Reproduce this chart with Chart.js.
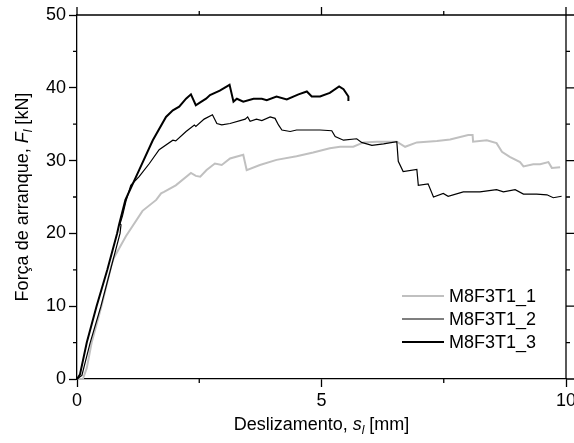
<!DOCTYPE html>
<html>
<head>
<meta charset="utf-8">
<script src="https://cdn.jsdelivr.net/npm/chart.js@4.4.0/dist/chart.umd.min.js"></script>
<style>
  html, body { margin: 0; padding: 0; background: #fff; }
</style>
</head>
<body>
<canvas id="pulloutChart" width="574" height="443"></canvas>
<script>
/* ================================
   Data
================================ */
const seriesNames = ["M8F3T1_1", "M8F3T1_2", "M8F3T1_3"];

// slip s_l [mm] / pull-out force F_l [kN]
const slip1 = [0, 0.12, 0.2, 0.3, 0.5, 0.7, 0.75, 1.0, 1.34, 1.62,
  1.72, 1.78, 2.02, 2.33, 2.43, 2.52, 2.65, 2.82, 2.96, 3.13,
  3.40, 3.47, 3.74, 4.08, 4.49, 4.83, 5.17, 5.38, 5.65, 5.86,
  6.13, 6.54, 6.71, 6.95, 7.36, 7.63, 8.00, 8.09, 8.10, 8.38,
  8.58, 8.69, 8.85, 9.06, 9.13, 9.33, 9.47, 9.64, 9.71, 9.88];
const force1 = [0, 0, 1.5, 5, 10, 15.5, 16.6, 19.6, 23.1, 24.6,
  25.5, 25.7, 26.6, 28.3, 27.9, 27.8, 28.7, 29.6, 29.4, 30.3,
  30.8, 28.7, 29.4, 30.1, 30.6, 31.1, 31.7, 31.9, 31.9, 32.5,
  32.6, 32.6, 31.9, 32.5, 32.7, 32.9, 33.5, 33.5, 32.6, 32.8,
  32.4, 31.2, 30.5, 29.8, 29.2, 29.5, 29.5, 29.8, 29.0, 29.1];

const slip2 = [0, 0.1, 0.27, 0.49, 0.88, 0.90, 0.88, 0.93, 1.0, 1.10,
  1.27, 1.48, 1.68, 1.96, 2.02, 2.23, 2.40, 2.43, 2.60, 2.77,
  2.86, 2.96, 3.13, 3.44, 3.49, 3.54, 3.67, 3.78, 3.95, 4.05,
  4.12, 4.19, 4.36, 4.49, 4.70, 4.97, 5.21, 5.28, 5.45, 5.72,
  5.82, 6.03, 6.27, 6.54, 6.57, 6.67, 6.95, 6.98, 7.18, 7.29,
  7.49, 7.59, 7.90, 8.24, 8.58, 8.72, 8.96, 9.13, 9.40, 9.61,
  9.74, 9.91];
const force2 = [0, 0.5, 5, 10, 20, 21.2, 21.3, 22.4, 24.4, 26.6,
  27.8, 29.6, 31.5, 32.8, 32.7, 34.0, 34.9, 34.7, 35.7, 36.3,
  35.1, 34.9, 35.1, 35.7, 36.0, 35.4, 35.7, 35.5, 36.0, 35.8,
  34.9, 34.2, 34.0, 34.2, 34.2, 34.2, 34.1, 33.3, 32.8, 33.0,
  32.5, 32.1, 32.3, 32.6, 29.9, 28.5, 28.8, 26.6, 26.8, 25.0,
  25.5, 25.1, 25.7, 25.7, 26.0, 25.7, 26.0, 25.4, 25.4, 25.3,
  24.9, 25.1];

const slip3 = [0, 0.06, 0.2, 0.40, 0.62, 0.82, 0.86, 0.99, 1.27, 1.55,
  1.82, 1.96, 2.09, 2.23, 2.33, 2.43, 2.52, 2.64, 2.72, 2.92,
  3.12, 3.20, 3.27, 3.40, 3.61, 3.78, 3.88, 4.08, 4.29, 4.53,
  4.70, 4.80, 4.97, 5.17, 5.36, 5.45, 5.55, 5.55];
const force3 = [0, 0.6, 5, 10, 15, 20, 21.2, 24.6, 28.7, 32.8,
  36.0, 36.9, 37.4, 38.5, 39.1, 37.6, 38.0, 38.5, 39.0, 39.6,
  40.4, 38.1, 38.5, 38.1, 38.5, 38.5, 38.3, 38.8, 38.4, 39.1,
  39.5, 38.8, 38.8, 39.3, 40.2, 39.8, 38.8, 38.2];

const xMajor = [0, 5, 10];
const xMinor = [2.5, 7.5];
const yMajor = [0, 10, 20, 30, 40, 50];
const yMinor = [5, 15, 25, 35, 45];

const FONT = "'Liberation Sans', Arial, Helvetica, sans-serif";

function toPoints(xs, ys) {
  return xs.map((x, i) => ({ x, y: ys[i] }));
}

/* ================================
   Helpers
================================ */
// text made of runs with their own font and vertical shift
function drawRuns(ctx, runs, cx, baseline) {
  let total = 0;
  runs.forEach(r => { ctx.font = r.font; total += ctx.measureText(r.text).width; });
  let x = cx - total / 2;
  runs.forEach(r => {
    ctx.font = r.font;
    ctx.fillText(r.text, x, baseline + (r.dy || 0));
    x += ctx.measureText(r.text).width;
  });
}

const normal = `18px ${FONT}`;
const italic = `italic 18px ${FONT}`;
const sub = `italic 12px ${FONT}`;

/* ================================
   Plugin: box, minor ticks, titles, legend
================================ */
const decorPlugin = {
  id: "decor",
  afterDraw(chart) {
    const { ctx, chartArea: a, scales: { x, y } } = chart;
    ctx.save();
    ctx.strokeStyle = "#000";
    ctx.lineWidth = 1.3;
    ctx.beginPath();
    ctx.moveTo(a.left, a.top);
    ctx.lineTo(a.right, a.top);
    ctx.lineTo(a.right, a.bottom);
    xMajor.forEach(v => {
      const px = x.getPixelForValue(v);
      ctx.moveTo(px, a.top); ctx.lineTo(px, a.top - 8);
    });
    xMinor.forEach(v => {
      const px = x.getPixelForValue(v);
      ctx.moveTo(px, a.top); ctx.lineTo(px, a.top - 4);
      ctx.moveTo(px, a.bottom); ctx.lineTo(px, a.bottom + 4);
    });
    yMajor.forEach(v => {
      const py = y.getPixelForValue(v);
      ctx.moveTo(a.right, py); ctx.lineTo(a.right + 8, py);
    });
    yMinor.forEach(v => {
      const py = y.getPixelForValue(v);
      ctx.moveTo(a.left, py); ctx.lineTo(a.left - 4, py);
      ctx.moveTo(a.right, py); ctx.lineTo(a.right + 4, py);
    });
    ctx.stroke();

    // axis titles
    ctx.fillStyle = "#000";
    ctx.textBaseline = "alphabetic";
    ctx.textAlign = "left";
    drawRuns(ctx, [
      { text: "Deslizamento, ", font: normal },
      { text: "s", font: italic },
      { text: "l", font: sub, dy: 4 },
      { text: " [mm]", font: normal }
    ], (a.left + a.right) / 2, 430);

    ctx.save();
    ctx.translate(28, (a.top + a.bottom) / 2);
    ctx.rotate(-Math.PI / 2);
    drawRuns(ctx, [
      { text: "Força de arranque, ", font: normal },
      { text: "F", font: italic },
      { text: "l", font: sub, dy: 4 },
      { text: " [kN]", font: normal }
    ], 0, 0);
    ctx.restore();

    // legend
    const lx = a.right - 164;
    const rows = [a.bottom - 83, a.bottom - 60, a.bottom - 37];
    chart.data.datasets.forEach((ds, i) => {
      ctx.strokeStyle = ds.borderColor;
      ctx.lineWidth = ds.borderWidth;
      ctx.beginPath();
      ctx.moveTo(lx, rows[i]);
      ctx.lineTo(lx + 42, rows[i]);
      ctx.stroke();
      ctx.fillStyle = "#000";
      ctx.font = normal;
      ctx.textBaseline = "middle";
      ctx.fillText(ds.label, lx + 47, rows[i] + 1);
    });
    ctx.restore();
  }
};

/* ================================
   Chart
================================ */
new Chart(document.getElementById("pulloutChart"), {
  type: "line",
  data: {
    datasets: [
      { label: seriesNames[0], data: toPoints(slip1, force1), borderColor: "#c0c0c0", borderWidth: 2, order: 3 },
      { label: seriesNames[1], data: toPoints(slip2, force2), borderColor: "#000", borderWidth: 1.2, order: 2 },
      { label: seriesNames[2], data: toPoints(slip3, force3), borderColor: "#000", borderWidth: 2, order: 1 }
    ]
  },
  options: {
    responsive: false,
    animation: false,
    layout: { padding: { top: 15, right: 8, left: 0, bottom: 0 } },
    elements: { point: { radius: 0 }, line: { tension: 0 } },
    plugins: { legend: { display: false }, tooltip: { enabled: false } },
    scales: {
      x: {
        type: "linear",
        min: 0, max: 10,
        afterFit: s => { s.height = 64; s.paddingLeft = 0; s.paddingRight = 0; },
        afterBuildTicks: s => { s.ticks = xMajor.map(v => ({ value: v })); },
        border: { color: "#000", width: 1.3 },
        grid: { drawOnChartArea: false, tickLength: 8, tickColor: "#000", tickWidth: 1.3 },
        ticks: { color: "#000", padding: 3, maxRotation: 0, font: { family: FONT, size: 18 } }
      },
      y: {
        min: 0, max: 50,
        afterFit: s => { s.width = 77; },
        afterBuildTicks: s => { s.ticks = yMajor.map(v => ({ value: v })); },
        border: { color: "#000", width: 1.3 },
        grid: { drawOnChartArea: false, tickLength: 8, tickColor: "#000", tickWidth: 1.3 },
        ticks: { color: "#000", padding: 3, font: { family: FONT, size: 18 } }
      }
    }
  },
  plugins: [decorPlugin]
});
</script>
</body>
</html>
